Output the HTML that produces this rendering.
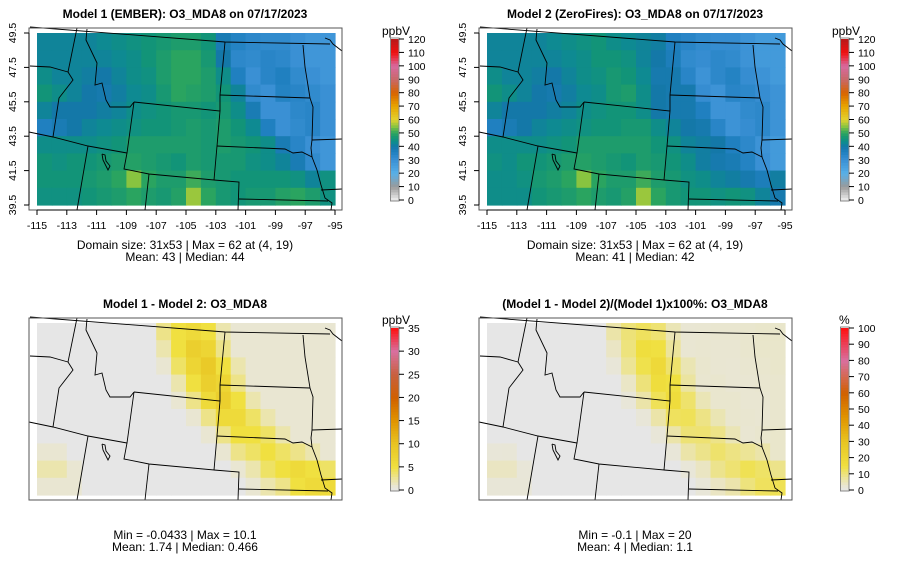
<!DOCTYPE html>
<html><head><meta charset="utf-8">
<style>
body{margin:0;background:#fff;}
svg{display:block;font-family:"Liberation Sans",sans-serif;}
</style></head>
<body>
<svg id="fig" width="900" height="579" viewBox="0 0 900 579"></svg>
<script>
// ---- data: 20 lon columns (-115..-96) x 10 lat rows (49..40, top to bottom) ----
const lonCats = [-115,-114,-113,-112,-111,-110,-109,-108,-107,-106,-105,-104,-103,-102,-101,-100,-99,-98,-97,-96];
const latCats = [49,48,47,46,45,44,43,42,41,40];
const model1 = [
[42,42,42,42,43,44,45,46,47,48,48,46,38,35,33,32,32,30,28,28],
[42,42,42,42,42,43,44,46,48,50,50,47,40,33,32,34,33,30,28,28],
[44,42,42,41,40,42,44,45,48,50,50,48,44,36,30,34,36,32,30,28],
[46,44,42,40,39,41,43,44,47,50,49,48,46,42,32,30,35,34,32,30],
[42,40,40,40,41,42,44,45,46,47,47,46,47,44,38,30,30,33,34,30],
[36,38,40,42,43,44,45,46,46,47,48,47,48,46,43,36,30,32,34,30],
[44,44,44,44,45,46,48,48,48,48,48,47,48,47,46,44,38,34,30,28],
[46,45,46,46,47,48,49,48,47,46,48,47,47,47,45,44,42,38,32,28],
[46,46,46,47,48,50,55,50,48,48,51,48,47,46,46,46,46,45,42,45],
[45,45,45,46,47,48,50,48,47,49,56,50,47,46,47,47,49,50,48,45]];
const diff = [
[0,0,0,0,0,0,0,0,3,5,6,5,2,1,1,1,1,1,1,1],
[0,0,0,0,0,0,0,0,2,5,8,7,3,1,1,1,1,1,1,1],
[0,0,0,0,0,0,0,0,1,4,7,9,5,2,1,1,1,1,1,1],
[0,0,0,0,0,0,0,0,0,2,5,8,7,3,1,1,1,1,1,1],
[0,0,0,0,0,0,0,0,0,1,3,6,8,5,2,1,1,1,1,1],
[0,0,0,0,0,0,0,0,0,0,1,3,6,6,4,2,1,1,1,1],
[0,0,0,0,0,0,0,0,0,0,0,1,3,5,5,4,2,1,1,1],
[1,1,0,0,0,0,0,0,0,0,0,0,1,3,4,5,4,3,2,1],
[2,2,1,0,0,0,0,0,0,0,0,0,0,1,2,4,5,6,5,4],
[1,1,1,0,0,0,0,0,0,0,0,0,0,0,1,2,3,5,6,6]];
const model2 = model1.map((r,i)=>r.map((v,j)=>v-diff[i][j]));
const pct = model1.map((r,i)=>r.map((v,j)=>diff[i][j]/v*100));
const xTicks = [-115,-113,-111,-109,-107,-105,-103,-101,-99,-97,-95];
const yTicks = [39.5,41.5,43.5,45.5,47.5,49.5];
const concTicks = [0,10,20,30,40,50,60,70,80,90,100,110,120];
const diffTicks = [0,5,10,15,20,25,30,35];
const pctTicks = [0,10,20,30,40,50,60,70,80,90,100];

const concStops=[[0,'#f0f0f0'],[10,'#9a9a9a'],[20,'#58b0e8'],[30,'#3a90d4'],[36,'#2080c0'],[40,'#1478a8'],[43,'#0e8a92'],[46,'#129478'],[50,'#2aa460'],[55,'#88c440'],[60,'#e2d230'],[70,'#e8a400'],[80,'#d86400'],[90,'#c86868'],[100,'#d86aa0'],[110,'#f01010'],[120,'#b81818']];
const diffStops=[[0,'#e6e6e6'],[1,'#e9e6d2'],[5,'#f0e040'],[10,'#e8c422'],[15,'#e09400'],[20,'#d06000'],[25,'#c86040'],[30,'#d870a0'],[35,'#ff1010']];
const pctStops=[[0,'#e6e6e6'],[3,'#e9e6d2'],[15,'#f0e040'],[30,'#e8c422'],[45,'#e09400'],[60,'#d06000'],[80,'#d870a0'],[100,'#ff1010']];

function hex(c){return [1,3,5].map(i=>parseInt(c.substr(i,2),16));}
function cmap(stops,v){
  if(v<=stops[0][0])return stops[0][1];
  for(let i=1;i<stops.length;i++){if(v<=stops[i][0]){const a=stops[i-1],b=stops[i];const t=(v-a[0])/(b[0]-a[0]);const A=hex(a[1]),B=hex(b[1]);return 'rgb('+A.map((x,k)=>Math.round(x+(B[k]-x)*t)).join(',')+')';}}
  return stops[stops.length-1][1];
}
const NS='http://www.w3.org/2000/svg';
const svg=document.getElementById('fig');
function el(tag,attrs,parent,text){const e=document.createElementNS(NS,tag);for(const k in attrs)e.setAttribute(k,attrs[k]);if(text!==undefined)e.textContent=text;(parent||svg).appendChild(e);return e;}

const xScale=lon=>37+(lon+115)*(335-37)/20;
const yScale=lat=>205-(lat-39.5)*(205-33)/10;

const borders=[
[[30,27],[225,42],[330,44]],[[325,38],[330,40],[333,44],[342,51]],
[[77,28],[68,72],[73,80],[59,98],[53,137]],
[[87,29],[86,40],[97,63],[95,85],[102,83],[106,100],[110,107],[130,107],[134,102]],
[[30,66],[50,67],[68,72]],
[[29,132],[53,137],[88,146],[127,153]],
[[88,146],[77,210]],
[[134,102],[220,111],[217,146],[214,180],[149,174],[124,169],[127,153],[134,102]],
[[149,174],[145,210]],[[214,180],[239,182],[238,210]],
[[225,42],[220,95],[220,111]],[[220,95],[310,98]],
[[303,45],[305,67],[310,98]],
[[217,146],[285,149],[293,153],[302,152],[312,157]],
[[310,98],[313,107],[312,140],[311,148],[312,157]],
[[312,140],[342,139]],
[[312,157],[317,170],[321,185],[325,198],[332,203],[331,210]],
[[239,199],[328,201]],[[321,190],[342,189]],
[[102,154],[105,155],[106,161],[110,166],[108,170],[106,166],[103,160],[102,154]]
];

function panel(ox,oy,o){
  const g=el('g',{transform:'translate('+ox+','+oy+')'});
  
  
  el('text',{x:185,y:18,'text-anchor':'middle','font-size':12,'font-weight':'bold'},g,o.title);
  const cw=(xScale(-95)-xScale(-115))/lonCats.length, ch=(yScale(39.5)-yScale(49.5))/latCats.length;
  const cells=el('g',{},g);
  
  
  o.data.forEach((row,i)=>row.forEach((v,j)=>{
    const r=el('rect',{x:xScale(lonCats[j]).toFixed(2),y:(yScale(latCats[i]+0.5)).toFixed(2),width:(cw+0.6).toFixed(2),height:(ch+0.6).toFixed(2),fill:cmap(o.stops,v)},cells);
    
    
  }));
  const b=el('g',{fill:'none',stroke:'#000','stroke-width':0.9},g);
  
  
  borders.forEach(p=>el('polyline',{points:p.map(q=>q.join(',')).join(' ')},b));
  el('rect',{x:29,y:28,width:313,height:182,fill:'none',stroke:'#555','stroke-width':1},g);
  if(o.axes){
    const ax=el('g',{'font-size':10.5},g);
    
    
    el('line',{x1:xScale(-115),x2:xScale(-95),y1:210,y2:210,stroke:'#000'},ax);
    xTicks.forEach(t=>{el('line',{x1:xScale(t),x2:xScale(t),y1:210,y2:215,stroke:'#000'},ax);
      el('text',{x:xScale(t),y:229,'text-anchor':'middle'},ax,String(t));});
    const ay=el('g',{'font-size':10.5},g);
    
    
    el('line',{x1:29,x2:29,y1:yScale(39.5),y2:yScale(49.5),stroke:'#000'},ay);
    yTicks.forEach(t=>{el('line',{x1:24,x2:29,y1:yScale(t),y2:yScale(t),stroke:'#000'},ay);
      el('text',{x:0,y:0,'text-anchor':'middle',transform:'translate(16,'+yScale(t)+') rotate(-90)'},ay,t.toFixed(1));});
  }
  const st=el('g',{'font-size':12,'text-anchor':'middle'},g);
  
  
  el('text',{x:185,y:o.sy},st,o.s1);el('text',{x:185,y:o.sy+12},st,o.s2);
  const cb=el('g',{},g);
  
  
  const vmax=o.ticks[o.ticks.length-1];const cy=v=>o.cb0-(v/vmax)*(o.cb0-o.cb1);
  for(let k=0;k<60;k++){const v0=vmax*k/60,v1=vmax*(k+1)/60;
    el('rect',{x:391,y:cy(v1),width:8,height:cy(v0)-cy(v1)+0.5,fill:cmap(o.stops,(v0+v1)/2)},cb);}
  el('rect',{x:390.5,y:o.cb1-1,width:8.5,height:o.cb0-o.cb1+2,fill:'none',stroke:'#888'},cb);
  o.ticks.forEach(t=>{el('line',{x1:399,x2:404,y1:cy(t),y2:cy(t),stroke:'#000'},cb);
    el('text',{x:408,y:cy(t)+4,'font-size':10.5},cb,String(t));});
  el('text',{x:o.unit==='%'?389:382,y:o.cb1-4,'font-size':12},cb,o.unit);
}
panel(0,0,{name:'panel-model1',title:'Model 1 (EMBER): O3_MDA8 on 07/17/2023',data:model1,stops:concStops,axes:true,sy:249,s1:'Domain size: 31x53 | Max = 62 at (4, 19)',s2:'Mean: 43 |  Median: 44',ticks:concTicks,cb0:200,cb1:39,unit:'ppbV'});
panel(450,0,{name:'panel-model2',title:'Model 2 (ZeroFires): O3_MDA8 on 07/17/2023',data:model2,stops:concStops,axes:true,sy:249,s1:'Domain size: 31x53 | Max = 62 at (4, 19)',s2:'Mean: 41 |  Median: 42',ticks:concTicks,cb0:200,cb1:39,unit:'ppbV'});
panel(0,290,{name:'panel-difference',title:'Model 1 - Model 2: O3_MDA8',data:diff,stops:diffStops,axes:false,sy:249,s1:'Min = -0.0433 | Max = 10.1',s2:'Mean: 1.74 |  Median: 0.466',ticks:diffTicks,cb0:200,cb1:38,unit:'ppbV'});
panel(450,290,{name:'panel-percent-difference',title:'(Model 1 - Model 2)/(Model 1)x100%: O3_MDA8',data:pct,stops:pctStops,axes:false,sy:249,s1:'Min = -0.1 | Max = 20',s2:'Mean: 4 |  Median: 1.1',ticks:pctTicks,cb0:200,cb1:38,unit:'%'});
</script>
</body></html>
